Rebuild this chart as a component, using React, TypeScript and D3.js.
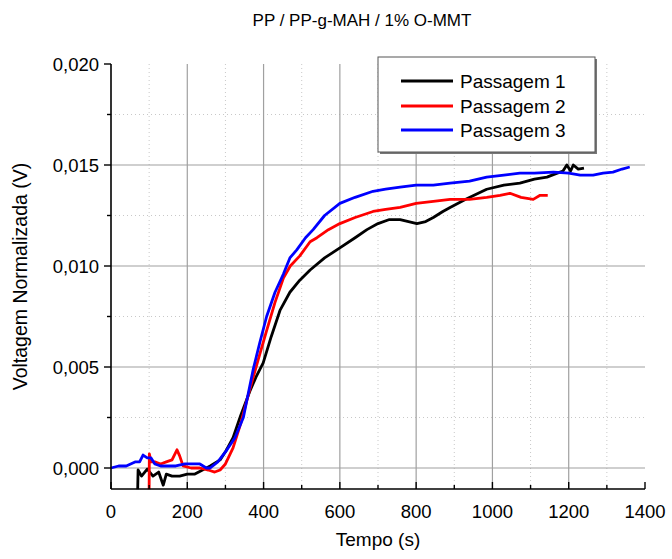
import React from "react";
import * as d3 from "d3";

const titleText = "PP / PP-g-MAH / 1% O-MMT";
const xLabel = "Tempo (s)";
const yLabel = "Voltagem Normalizada (V)";
const xTicks = [0, 200, 400, 600, 800, 1000, 1200, 1400];
const xMinor = [100, 300, 500, 700, 900, 1100, 1300];
const yTicks = [0, 0.005, 0.01, 0.015, 0.02];
const yMinor = [0.0025, 0.0075, 0.0125, 0.0175];
const yTickLabels = ["0,000", "0,005", "0,010", "0,015", "0,020"];
const seriesNames = ["Passagem 1", "Passagem 2", "Passagem 3"];
const seriesColors = ["#000000", "#ff0000", "#0000ff"];

const t1 = [70, 71, 80, 95, 110, 125, 137, 145, 160, 180, 200, 220, 240, 260, 286, 300, 320, 340, 364, 380, 399, 420, 443, 469, 495, 522, 560, 600, 640, 671, 700, 730, 758, 780, 802, 825, 845, 870, 889, 930, 985, 1030, 1072, 1110, 1143, 1170, 1185, 1195, 1205, 1212, 1225, 1240];
const v1 = [-0.00105, -0.0001, -0.0004, -0.00005, -0.0004, -0.0002, -0.00085, -0.0003, -0.0004, -0.0004, -0.0003, -0.0003, -0.0001, 0.0001, 0.0004, 0.0008, 0.0015, 0.0026, 0.0038, 0.0045, 0.0052, 0.0065, 0.0078, 0.0087, 0.0093, 0.0098, 0.0104, 0.0109, 0.0114, 0.0118, 0.0121, 0.0123, 0.0123, 0.0122, 0.0121, 0.0122, 0.0124, 0.0127, 0.0129, 0.0133, 0.0138, 0.014, 0.0141, 0.0143, 0.0144, 0.0146, 0.0147, 0.015, 0.0147, 0.015, 0.0148, 0.01485];

const t2 = [100, 100.5, 105, 115, 130, 145, 160, 173, 180, 189, 210, 233, 255, 272, 286, 300, 320, 340, 364, 385, 408, 430, 452, 470, 495, 522, 540, 570, 600, 640, 687, 720, 758, 800, 845, 889, 940, 985, 1020, 1046, 1075, 1107, 1125, 1145];
const v2 = [-0.00105, 0.0007, 0.0003, 0.0003, 0.0002, 0.0003, 0.0004, 0.0009, 0.0006, 0.0001, 0.0, 0.0, -0.0001, -0.0002, -0.0001, 0.0002, 0.001, 0.0022, 0.0039, 0.0053, 0.0068, 0.0082, 0.0094, 0.01, 0.0105, 0.0112, 0.0114, 0.0118, 0.0121, 0.0124, 0.0127, 0.0128, 0.0129, 0.0131, 0.0132, 0.0133, 0.0133, 0.0134, 0.0135, 0.0136, 0.0134, 0.0133, 0.0135, 0.0135];

const t3 = [0, 20, 40, 63, 75, 84, 95, 105, 115, 130, 150, 170, 194, 215, 233, 250, 260, 280, 304, 325, 347, 373, 390, 408, 430, 452, 469, 487, 510, 530, 560, 600, 640, 687, 720, 758, 800, 845, 889, 940, 985, 1030, 1072, 1110, 1160, 1200, 1230, 1264, 1290, 1316, 1340, 1360];
const v3 = [0.0, 0.0001, 0.0001, 0.0003, 0.0003, 0.00064, 0.0005, 0.0005, 0.0002, 0.0001, 0.0001, 0.0001, 0.0002, 0.0002, 0.0002, 0.0, 0.0, 0.0003, 0.0009, 0.0015, 0.0025, 0.0049, 0.0062, 0.0075, 0.0087, 0.0096, 0.0104, 0.0108, 0.0114, 0.0118, 0.0125, 0.0131, 0.0134, 0.0137, 0.0138, 0.0139, 0.014, 0.014, 0.0141, 0.0142, 0.0144, 0.0145, 0.0146, 0.0146, 0.01465, 0.0146, 0.0145, 0.0145, 0.0146, 0.01465, 0.0148, 0.0149];

const W = 672;
const H = 559;
const L = 111, R = 645, T = 64, B = 489;
const FONT = "'Liberation Sans', Arial, sans-serif";

export default function App() {
  const x = d3.scaleLinear().domain([0, 1400]).range([L, R]);
  const y = d3.scaleLinear().domain([0, 0.02]).range([468, T]);
  const line = d3.line<[number, number]>().x((d) => x(d[0])).y((d) => y(d[1]));
  const series = [
    t1.map((t, i) => [t, v1[i]] as [number, number]),
    t2.map((t, i) => [t, v2[i]] as [number, number]),
    t3.map((t, i) => [t, v3[i]] as [number, number]),
  ];
  const legendY = [81, 106, 130];
  return (
    <svg width={W} height={H} style={{ position: "absolute", left: 0, top: 0, background: "#fff" }} fontFamily={FONT}>
      <rect x={0} y={0} width={W} height={H} fill="#fff" />
      {xMinor.map((v) => (
        <line key={"xm" + v} x1={x(v)} x2={x(v)} y1={T} y2={B} stroke="#c8c8c8" strokeWidth={1} strokeDasharray="1,3" />
      ))}
      {yMinor.map((v) => (
        <line key={"ym" + v} x1={L} x2={R} y1={y(v)} y2={y(v)} stroke="#c8c8c8" strokeWidth={1} strokeDasharray="1,3" />
      ))}
      {xTicks.filter((v) => v > 0 && v < 1400).map((v) => (
        <line key={"xg" + v} x1={x(v)} x2={x(v)} y1={T} y2={B} stroke="#a0a0a0" strokeWidth={1.2} />
      ))}
      {yTicks.filter((v) => v < 0.02).map((v) => (
        <line key={"yg" + v} x1={L} x2={R} y1={y(v)} y2={y(v)} stroke="#a0a0a0" strokeWidth={1.2} />
      ))}
      {series.map((s, i) => (
        <path key={"s" + i} d={line(s) || ""} fill="none" stroke={seriesColors[i]} strokeWidth={2.8} strokeLinejoin="round" />
      ))}
      <line x1={L} x2={L} y1={T} y2={B} stroke="#000" strokeWidth={1.6} />
      <line x1={L} x2={R} y1={B} y2={B} stroke="#000" strokeWidth={1.6} />
      {xTicks.map((v) => (
        <line key={"xt" + v} x1={x(v)} x2={x(v)} y1={B} y2={B - 7} stroke="#000" strokeWidth={1.4} />
      ))}
      {xMinor.map((v) => (
        <line key={"xtm" + v} x1={x(v)} x2={x(v)} y1={B} y2={B - 4} stroke="#000" strokeWidth={1.4} />
      ))}
      {yTicks.map((v) => (
        <line key={"yt" + v} x1={L} x2={L - 7} y1={y(v)} y2={y(v)} stroke="#000" strokeWidth={1.4} />
      ))}
      {yMinor.map((v) => (
        <line key={"ytm" + v} x1={L} x2={L - 4} y1={y(v)} y2={y(v)} stroke="#000" strokeWidth={1.4} />
      ))}
      {xTicks.map((v) => (
        <text key={"xl" + v} x={x(v)} y={518} fontSize={18.5} textAnchor="middle" fill="#000">{v}</text>
      ))}
      {yTicks.map((v, i) => (
        <text key={"yl" + v} x={L - 12} y={y(v) + 6.5} fontSize={18.5} textAnchor="end" fill="#000">{yTickLabels[i]}</text>
      ))}
      <text x={(L + R) / 2} y={546} fontSize={19} textAnchor="middle" fill="#000">{xLabel}</text>
      <text transform={`translate(27,${(T + B) / 2}) rotate(-90)`} fontSize={19.5} textAnchor="middle" fill="#000">{yLabel}</text>
      <text x={362} y={26} fontSize={17} textAnchor="middle" fill="#000">{titleText}</text>
      <rect x={380} y={59} width={217} height={95} fill="#777" />
      <rect x={378} y={57} width={217} height={95} fill="#fff" stroke="#555" strokeWidth={1} />
      {seriesNames.map((n, i) => (
        <g key={"lg" + i}>
          <line x1={401} x2={453} y1={legendY[i]} y2={legendY[i]} stroke={seriesColors[i]} strokeWidth={3} />
          <text x={460} y={legendY[i] + 7} fontSize={19} fill="#000">{n}</text>
        </g>
      ))}
    </svg>
  );
}
